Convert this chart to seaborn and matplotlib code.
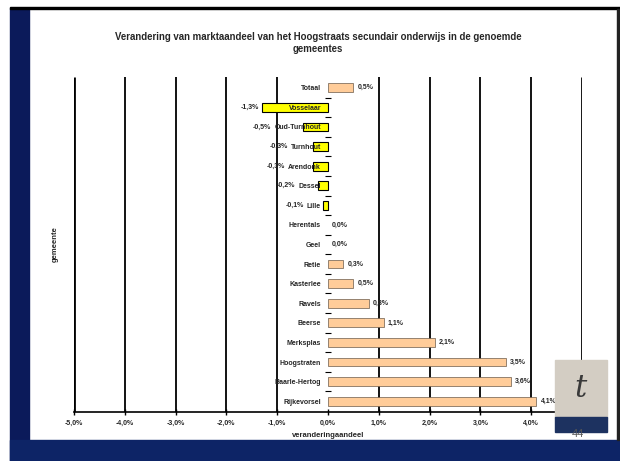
import numpy as np
import pandas as pd
import matplotlib
matplotlib.use('Agg')
import matplotlib.pyplot as plt
from matplotlib.patches import Rectangle
import seaborn as sns

# --- Data ---
gemeenten = ['Totaal', 'Vosselaar', 'Oud-Turnhout', 'Turnhout', 'Arendonk', 'Dessel',
             'Lille', 'Herentals', 'Geel', 'Retie', 'Kasterlee', 'Ravels', 'Beerse',
             'Merksplas', 'Hoogstraten', 'Baarle-Hertog', 'Rijkevorsel']
verandering = [0.5, -1.3, -0.5, -0.3, -0.3, -0.2, -0.1, 0.0, 0.0, 0.3, 0.5, 0.8, 1.1,
               2.1, 3.5, 3.6, 4.1]
x_ticks = [-5, -4, -3, -2, -1, 0, 1, 2, 3, 4, 5]

title = 'Verandering van marktaandeel van het Hoogstraats secundair onderwijs in de genoemde\ngemeentes'

def pct(v):
    return f'{v:.1f}%'.replace('.', ',')

df = pd.DataFrame({'gemeente': gemeenten, 'verandering': verandering})
df['teken'] = np.where(df['verandering'] < 0, 'neg', 'pos')

sns.set_theme(style='white')
plt.rcParams['font.family'] = ['Liberation Sans', 'DejaVu Sans']

fig = plt.figure(figsize=(6.2, 4.61), dpi=100)
W, H = 620, 461

# slide decorations
fig.patches.append(Rectangle((10 / W, 0), 19 / W, 1 - 8 / H, transform=fig.transFigure,
                             color='#0b1a5a', zorder=0))
fig.patches.append(Rectangle((10 / W, 0), 1, 21 / H, transform=fig.transFigure,
                             color='#0d2466', zorder=0))
fig.patches.append(Rectangle((10 / W, 1 - 9 / H), 1, 2 / H, transform=fig.transFigure,
                             color='black', zorder=0))
fig.patches.append(Rectangle((617 / W, 21 / H), 2 / W, 1 - 30 / H, transform=fig.transFigure,
                             color='#222222', zorder=0))
fig.patches.append(Rectangle((555 / W, 1 - 418 / H), 52 / W, 58 / H, transform=fig.transFigure,
                             color='#d3cdc3', zorder=0))
fig.patches.append(Rectangle((555 / W, 1 - 432 / H), 52 / W, 15 / H, transform=fig.transFigure,
                             color='#1d3260', zorder=0))
fig.text(580 / W, 1 - 388 / H, 't', fontsize=22, color='#3a3a3a', ha='center', va='center',
         family=['DejaVu Serif'], style='italic')
fig.text(578 / W, 1 - 434 / H, '44', fontsize=8, color='#555555', ha='center', va='center')

ax = fig.add_axes([74 / W, 1 - 412 / H, 508 / W, 335 / H])
sns.barplot(data=df, x='verandering', y='gemeente', hue='teken', orient='h',
            palette={'pos': '#ffcc99', 'neg': '#ffff00'}, dodge=False, width=0.45,
            saturation=1, legend=False, ax=ax, zorder=2)

for p in ax.patches:
    w = p.get_width()
    if w < 0:
        p.set_edgecolor('black')
        p.set_linewidth(0.8)
    elif w > 0:
        p.set_edgecolor('#6b5a4a')
        p.set_linewidth(0.5)
    else:
        p.set_linewidth(0)

ax.set_xlim(-5, 5)
ax.set_ylim(len(gemeenten) - 0.45, -0.55)
ax.set_xticks(x_ticks)
ax.set_xticklabels([pct(t) for t in x_ticks], fontsize=5, fontweight='bold')
ax.tick_params(axis='x', direction='inout', length=5, width=1, color='black', pad=3, bottom=True)

# vertical gridlines below the bars, none at zero
grid_x = [t for t in x_ticks if t != 0]
ax.vlines(grid_x, 0, 1, transform=ax.get_xaxis_transform(), colors='black',
          linewidth=[2 if abs(t) == 5 else 1.3 for t in grid_x], zorder=1)

# category axis sits on zero
ax.spines['left'].set_position(('data', 0))
ax.spines['left'].set_color('none')
ax.set_yticks(range(len(gemeenten)))
ax.set_yticklabels(gemeenten, fontsize=5, fontweight='bold')
ax.set_yticks(np.arange(len(gemeenten) - 1) + 0.5, minor=True)
ax.tick_params(axis='y', which='major', length=0, pad=5)
ax.tick_params(axis='y', which='minor', left=True, direction='inout', length=4, width=0.8,
               color='black')

for s in ['top', 'right']:
    ax.spines[s].set_visible(False)
ax.spines['bottom'].set_color('black')
ax.spines['bottom'].set_linewidth(1.2)
ax.grid(False)
ax.set_axisbelow(False)

ax.set_xlabel('veranderingaandeel', fontsize=5.5, fontweight='bold', labelpad=4)
ax.set_ylabel('gemeente', fontsize=5.5, fontweight='bold', labelpad=0)
ax.yaxis.set_label_coords(-0.03, 0.5)

fig.text(318 / W, 1 - 43 / H, title, ha='center', va='center', fontsize=6.9,
         fontweight='bold', linespacing=1.3)

# value labels: negatives go left of both bar end and category label (like Excel did)
fig.canvas.draw()
renderer = fig.canvas.get_renderer()
inv = ax.transData.inverted()
ticklabels = ax.get_yticklabels()
for i, v in enumerate(verandering):
    if v < 0:
        bar_px = ax.transData.transform((v, i))[0]
        lab_px = ticklabels[i].get_window_extent(renderer).x0
        left_px = min(bar_px, lab_px)
        xpos = inv.transform((left_px - 3, 0))[0]
        ax.text(xpos, i, pct(v), ha='right', va='center', fontsize=5, fontweight='bold')
    else:
        ax.annotate(pct(v), (v, i), xytext=(3, 0), textcoords='offset points',
                    ha='left', va='center', fontsize=5, fontweight='bold')

fig.savefig('out.png', dpi=100)
